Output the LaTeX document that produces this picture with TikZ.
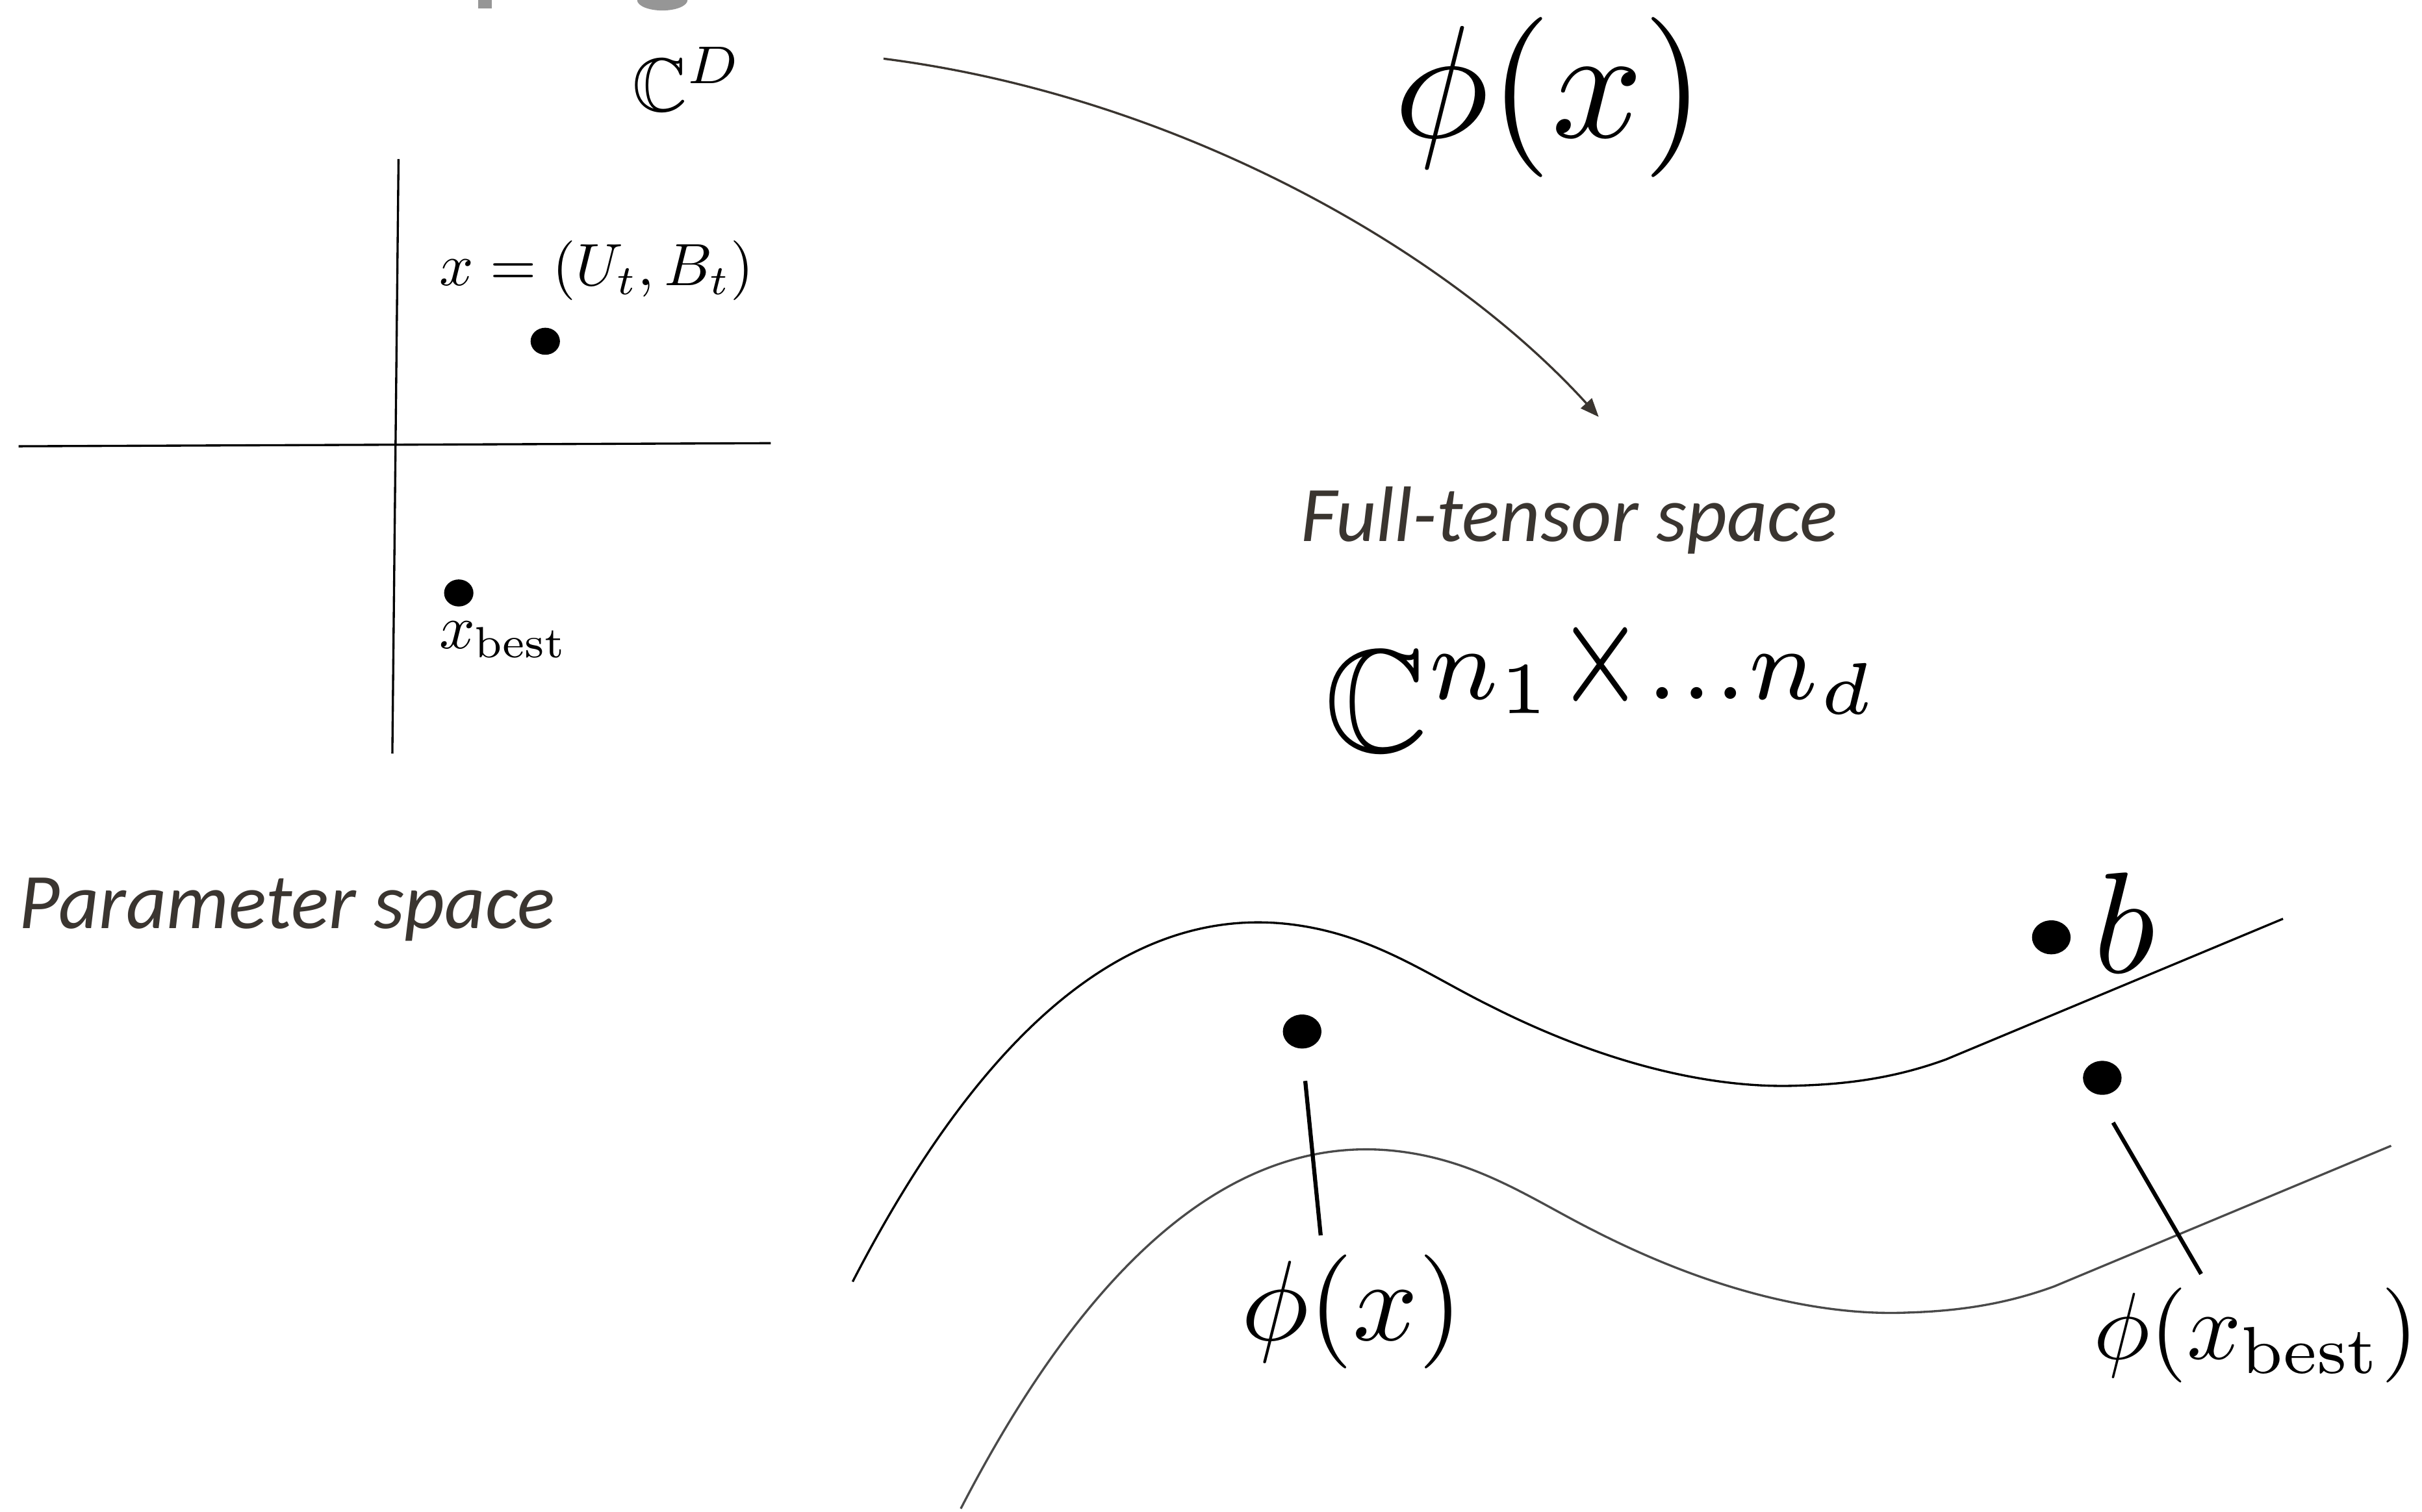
\documentclass[tikz,border=0pt]{standalone}
\usepackage{amssymb}
\usepackage{graphicx}
\usepackage{fontspec}
\newfontfamily\labfont{Carlito}
\usetikzlibrary{arrows.meta,shapes.geometric}
\definecolor{ink}{HTML}{3A3530}
\definecolor{titlegray}{HTML}{969696}
\definecolor{curvegray}{HTML}{4A4A4A}
\begin{document}
\begin{tikzpicture}[x=0.02cm,y=-0.02cm,
  smalldot/.style={ellipse,fill=black,inner sep=0pt,minimum width=0.38cm,minimum height=0.35cm},
  bigdot/.style={ellipse,fill=black,inner sep=0pt,minimum width=0.50cm,minimum height=0.44cm},
  axis/.style={line width=0.8pt,black},
  lead/.style={line width=1.5pt,black},
  manifold/.style={line width=0.8pt},
  spacelabel/.style={inner sep=0pt,text=ink,font=\labfont\itshape\fontsize{29}{34}\selectfont},
  mathlabel/.style={inner sep=0pt,anchor=base west}
]
\useasboundingbox (0,0) rectangle (1568,979);

% cut-off title fragments
\fill[titlegray] (309.5,0) rectangle (318.4,5.6);
\fill[titlegray] (412.5,0) arc[start angle=180,end angle=0,x radius=16.3,y radius=6.8] -- cycle;

% parameter space axes
\coordinate (vt) at (258,103);
\coordinate (vb) at (254,488);
\coordinate (hl) at (12,289);
\coordinate (hr) at (499,287);
\draw[axis] (vt) -- (vb);
\draw[axis] (hl) -- (hr);

\node[smalldot] (px) at (353,221) {};
\node[smalldot] (pbest) at (297,384) {};
\node[mathlabel] (xeq) at (284,185) {\scalebox{2.2}{$x=(U_t,B_t)$}};
\node[mathlabel] (xbest) at (284,420) {\scalebox{2.3}{$x_{\mathrm{best}}$}};
\node[mathlabel] (CD) at (409,72) {\scalebox{2.8}{$\mathbb{C}^D$}};
\node[spacelabel] (param) at (186,589) {Parameter space};

% mapping arrow
\node[mathlabel] (phitop) at (902,89) {\scalebox{5.9}{$\phi(x)$}};
\coordinate (arrS) at (572,38);
\coordinate (arrE) at (1035,270);
\draw[ink,line width=0.8pt,-{Triangle[length=0.24cm,width=0.19cm]}]
  (arrS) .. controls (760,62) and (935,160) .. (arrE);

\node[spacelabel] (full) at (1016,337) {Full-tensor space};
\node[mathlabel] (Cbig) at (857,487) {\scalebox{5.3}[5.4]{$\mathbb{C}^{n_1\scalebox{1}[1.35]{$\scriptstyle\times$}\ldots n_d}$}};

% manifolds
\draw[manifold,black] (552,830) .. controls (645,650) and (740,590) .. (830,598)
  .. controls (885,603) and (922,630) .. (962,650)
  .. controls (1050,695) and (1120,705) .. (1165,703)
  .. controls (1200,702) and (1230,697) .. (1260,686) -- (1478,595);
\begin{scope}[shift={(70,147)}]
\draw[manifold,curvegray] (552,830) .. controls (645,650) and (740,590) .. (830,598)
  .. controls (885,603) and (922,630) .. (962,650)
  .. controls (1050,695) and (1120,705) .. (1165,703)
  .. controls (1200,702) and (1230,697) .. (1260,686) -- (1478,595);
\end{scope}

\node[bigdot] (bdot) at (1328,607) {};
\node[mathlabel] (b) at (1355,630) {\scalebox{5.3}{$b$}};

\node[bigdot] (phidot) at (843,668) {};
\node[mathlabel] (phix) at (803,868) {\scalebox{4.2}{$\phi(x)$}};
\coordinate (l1a) at (845,700);
\coordinate (l1b) at (855,800);
\draw[lead] (l1a) -- (l1b);

\node[bigdot] (bestdot) at (1361,698) {};
\node[mathlabel] (phibest) at (1355,880) {\scalebox{3.5}{$\phi(x_{\mathrm{best}})$}};
\coordinate (l2a) at (1368,727);
\coordinate (l2b) at (1425,825);
\draw[lead] (l2a) -- (l2b);
\end{tikzpicture}
\end{document}
